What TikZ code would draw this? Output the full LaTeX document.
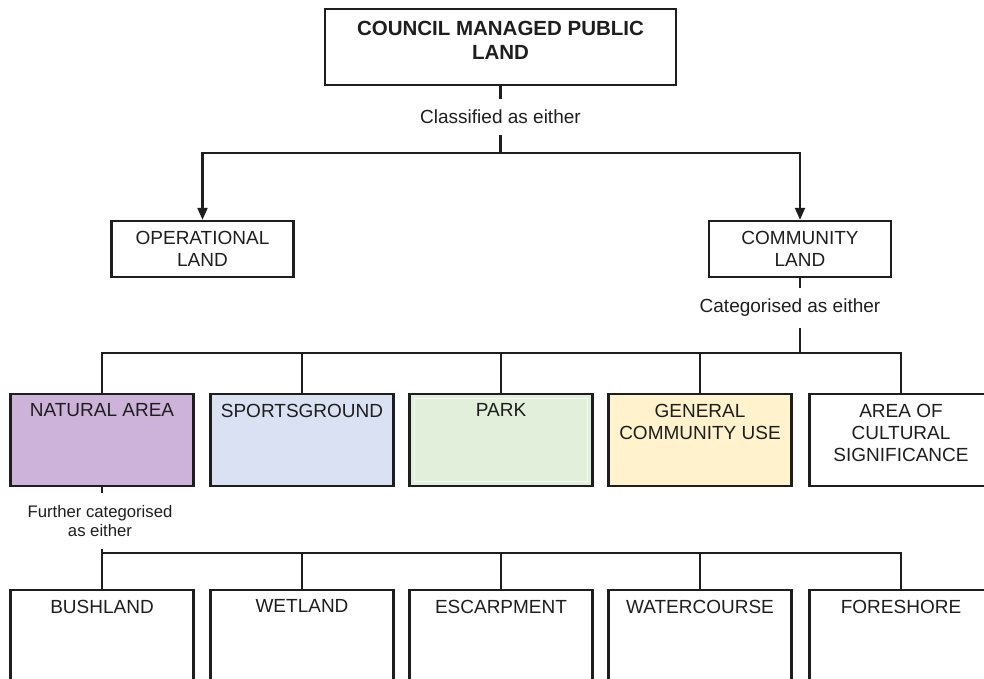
\documentclass[tikz,border=0pt]{standalone}
\usepackage{fontspec}
\setmainfont{Liberation Sans}
\usetikzlibrary{arrows.meta}

\definecolor{naturalfill}{HTML}{CDB3DA}
\definecolor{sportsfill}{HTML}{DAE1F3}
\definecolor{parkfill}{HTML}{E2EFDA}
\definecolor{generalfill}{HTML}{FFF2CC}
\definecolor{inkline}{HTML}{1E1E1E}

\begin{document}
\begin{tikzpicture}[x=1pt,y=-1pt,line width=2.2pt,draw=inkline,text=inkline]
    \tikzstyle{boxtext}=[anchor=north,inner sep=0pt,align=center,yshift=-10pt,font=\fontsize{19}{22}\selectfont]
    \tikzstyle{catbox}=[rectangle,draw,line width=2.4pt,minimum width=183pt,minimum height=92pt,inner sep=0pt]
    \tikzstyle{subbox}=[catbox,fill=white,minimum height=130pt]
    \tikzstyle{landbox}=[rectangle,draw,line width=2.4pt,minimum width=182pt,minimum height=56pt,align=center,font=\fontsize{19}{22}\selectfont]
    \tikzstyle{linklabel}=[inner sep=10pt,align=center,font=\fontsize{19}{22}\selectfont]
    \tikzstyle{arrow}=[-{Triangle[length=12pt,width=10pt]}]

    \path[use as bounding box,clip] (0,0) rectangle (984,679);

    % top level
    \node[catbox,minimum width=351pt,minimum height=76pt,
          label={[boxtext,yshift=-2pt,font=\bfseries\fontsize{20.5}{24}\selectfont]north:COUNCIL MANAGED PUBLIC\\LAND}]
          (public) at (500.5,47) {};
    \node[linklabel] (classified) at (500.5,117) {Classified as either};
    \coordinate (split-top) at (500.5,153);

    \node[landbox] (operational) at (202.5,249) {OPERATIONAL\\LAND};
    \node[landbox] (community) at (800,249) {COMMUNITY\\LAND};

    \draw (public) -- (classified);
    \draw (classified) -- (split-top);
    \draw[arrow] (split-top) -| (operational);
    \draw[arrow] (split-top) -| (community);

    % categories of community land
    \node[linklabel] (categorised) at (790,308) {Categorised as either};
    \coordinate (split-cat) at (800,353);
    \draw (community) -- (community |- categorised.north);
    \draw (categorised.south -| community) -- (split-cat);

    \foreach \n/\x/\col/\txt in {1/102/naturalfill/{NATURAL AREA}, 2/302/sportsfill/SPORTSGROUND,
            3/501/parkfill/PARK, 4/700/generalfill/{GENERAL\\COMMUNITY USE},
            5/901/white/{AREA OF\\CULTURAL\\SIGNIFICANCE}}
        \node[catbox,fill=\col,label={[boxtext]north:\txt}] (cat-\n) at (\x,440) {};

    \foreach \n in {1,...,5}
        \draw (split-cat) -| (cat-\n);

    % faint inner rim of the park box
    \draw[white!70!parkfill,line width=0.8pt] ([xshift=6pt,yshift=-6pt]cat-3.north west) rectangle ([xshift=-6pt,yshift=6pt]cat-3.south east);

    % sub categories of natural area
    \node[linklabel,inner sep=11pt,font=\fontsize{16.7}{19}\selectfont] (further) at (100,521) {Further categorised\\as either};
    \coordinate (split-sub) at (102,553);
    \draw (cat-1) -- (cat-1 |- further.north);

    \foreach \n/\x/\txt in {1/102/BUSHLAND, 2/302/WETLAND, 3/501/ESCARPMENT, 4/700/WATERCOURSE, 5/901/FORESHORE}
        \node[subbox,label={[boxtext]north:\txt}] (sub-\n) at (\x,655) {};

    \draw (further.south -| sub-1) -- (sub-1);
    \foreach \n in {2,...,5}
        \draw (split-sub) -| (sub-\n);
\end{tikzpicture}
\end{document}
